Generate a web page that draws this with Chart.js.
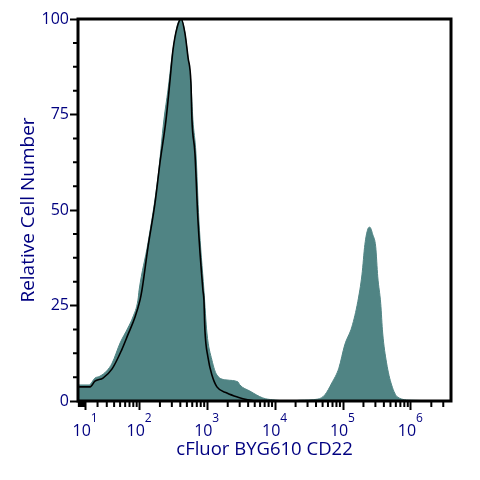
<!DOCTYPE html>
<html>
<head>
<meta charset="utf-8">
<script src="https://cdn.jsdelivr.net/npm/chart.js@4/dist/chart.umd.js"></script>
<style>
  html, body { margin: 0; padding: 0; background: #fff; }
  canvas { display: block; }
</style>
</head>
<body>
<canvas id="histChart" width="480" height="480"></canvas>
<script>
// values: intensity, and count as % of the tallest peak
const stainedX = [4.4, 12.6, 17.6, 22.4, 30, 37, 50, 66, 79, 94, 98, 133, 187, 229, 263, 301, 334, 370, 410, 438, 468, 519, 574, 614, 680, 752, 892, 988, 1170, 1386, 1946, 2830, 3020, 4240, 6580, 9240, 16500, 23200, 42700, 53900, 68300, 86800, 106000, 135000, 165000, 190000, 210000, 232000, 248000, 275000, 303000, 325000, 359000, 384000, 438000, 520000, 640000, 1030000, 3900000];
const stainedY = [4.2, 4.2, 6.0, 6.5, 7.9, 9.9, 15.2, 19.1, 22, 26.4, 29.1, 41.4, 58.6, 73.6, 81.4, 90, 95.3, 99, 100, 99, 96.3, 90, 83.2, 73.6, 64.9, 47.4, 29, 17.8, 10.7, 6.8, 5.5, 5, 4.2, 2.6, 0.8, 0.3, 0, 0.2, 0.5, 1.6, 4.7, 8.6, 14.7, 19.4, 26, 33, 41, 45, 45.5, 43.5, 40.4, 32.5, 25.6, 17.8, 10, 4.2, 1, 0.2, 0];
const controlX = [4.4, 13.4, 17.6, 25.6, 37, 53, 66, 85, 101, 108, 133, 169, 200, 246, 282, 312, 357, 410, 468, 519, 574, 594, 657, 728, 862, 892, 922, 1022, 1170, 1386, 1946, 2830, 3940, 5000];
const controlY = [3.7, 3.7, 5.2, 6, 8.4, 13.4, 17.3, 22, 26.4, 29, 40.3, 51.8, 62.3, 73.6, 84, 91.9, 97.6, 100, 96.3, 90, 83.2, 73.6, 64.9, 47.4, 29, 26.4, 18.6, 11.5, 6.8, 3.7, 2.1, 1, 0.3, 0];

const decades = [1, 2, 3, 4, 5, 6];
const yLabels = [0, 25, 50, 75, 100];
const xTitle = 'cFluor BYG610 CD22';
const yTitle = 'Relative Cell Number';

const navy = '#000080';
const teal = '#508484';
const fontName = '"Open Sans", "Noto Sans", sans-serif';

// flow cytometry axis: log at the top end, squeezed near zero
const COFACTOR = 20;
class BiexScale extends Chart.LinearScale {
    static id = 'biex';
    static defaults = Chart.LinearScale.defaults;

    buildTicks() {
        const ticks = [];
        for (let e = 0; e <= 6; e++) {
            for (let m = 1; m <= 9; m++) {
                const value = m * Math.pow(10, e);
                if (value < this.min || value > this.max) continue;
                ticks.push({ value: value, major: m === 1 && decades.includes(e) });
            }
        }
        return ticks;
    }

    getPixelForValue(value) {
        const lo = Math.asinh(this.min / COFACTOR);
        const hi = Math.asinh(this.max / COFACTOR);
        return this.getPixelForDecimal((Math.asinh(value / COFACTOR) - lo) / (hi - lo));
    }
}
Chart.register(BiexScale);

const toPoints = (xs, ys) => xs.map((x, i) => ({ x: x, y: ys[i] }));

// short ticks, exponents and the box around the plot
const plotDecor = {
    id: 'plotDecor',
    afterDraw(chart) {
        const ctx = chart.ctx;
        const area = chart.chartArea;
        const xs = chart.scales.x;
        const ys = chart.scales.y;
        ctx.save();
        ctx.strokeStyle = '#000';
        ctx.lineWidth = 2;
        ctx.beginPath();
        xs.ticks.filter(t => !t.major).forEach(t => {
            const px = xs.getPixelForValue(t.value);
            ctx.moveTo(px, area.bottom);
            ctx.lineTo(px, area.bottom + 6);
        });
        ys.ticks.filter(t => t.value % 25 !== 0).forEach(t => {
            const py = ys.getPixelForValue(t.value);
            ctx.moveTo(area.left, py);
            ctx.lineTo(area.left - 5, py);
        });
        ctx.stroke();

        ctx.lineWidth = 3;
        ctx.strokeRect(area.left, area.top, area.right - area.left, area.bottom - area.top);

        ctx.fillStyle = navy;
        ctx.font = '12px ' + fontName;
        ctx.textAlign = 'center';
        ctx.textBaseline = 'middle';
        decades.forEach(e => {
            ctx.fillText(String(e), xs.getPixelForValue(Math.pow(10, e)) + 8.5, 419);
        });
        ctx.restore();
    }
};

new Chart(document.getElementById('histChart').getContext('2d'), {
    type: 'line',
    data: {
        datasets: [{
            label: 'Control',
            data: toPoints(controlX, controlY),
            borderColor: '#000',
            borderWidth: 1.6,
            pointRadius: 0,
            fill: false,
            cubicInterpolationMode: 'monotone'
        }, {
            label: 'Stained',
            data: toPoints(stainedX, stainedY),
            borderColor: teal,
            backgroundColor: teal,
            borderWidth: 1,
            pointRadius: 0,
            fill: 'origin',
            cubicInterpolationMode: 'monotone'
        }]
    },
    options: {
        responsive: false,
        animation: false,
        layout: { padding: { top: 19, right: 29 } },
        plugins: { legend: { display: false }, tooltip: { enabled: false } },
        scales: {
            x: {
                type: 'biex',
                min: 4.4,
                max: 3900000,
                afterFit(scale) { scale.height = 79; },
                border: { display: false },
                grid: {
                    drawOnChartArea: false,
                    tickLength: 9,
                    tickWidth: 2,
                    tickColor: c => (c.tick && c.tick.major ? '#000' : 'rgba(0,0,0,0)')
                },
                ticks: {
                    autoSkip: false,
                    maxRotation: 0,
                    padding: 12,
                    labelOffset: -4,
                    color: navy,
                    font: { family: fontName, size: 16 },
                    callback(value) { return decades.some(e => Math.pow(10, e) === value) ? '10' : ''; }
                },
                title: {
                    display: true,
                    text: xTitle,
                    color: navy,
                    font: { family: fontName, size: 18.5 },
                    padding: { top: 0, bottom: 19 }
                }
            },
            y: {
                min: 0,
                max: 100,
                afterFit(scale) { scale.width = 78; },
                border: { display: false },
                grid: {
                    drawOnChartArea: false,
                    tickLength: 8,
                    tickWidth: 2,
                    tickColor: c => (c.tick && yLabels.includes(c.tick.value) ? '#000' : 'rgba(0,0,0,0)')
                },
                ticks: {
                    stepSize: 6.25,
                    autoSkip: false,
                    padding: 1,
                    color: navy,
                    font: { family: fontName, size: 16 },
                    callback(value) { return yLabels.includes(value) ? String(value) : ''; }
                },
                title: {
                    display: true,
                    text: yTitle,
                    color: navy,
                    font: { family: fontName, size: 19 },
                    padding: { top: 17, bottom: 0 }
                }
            }
        }
    },
    plugins: [plotDecor]
});
</script>
</body>
</html>
